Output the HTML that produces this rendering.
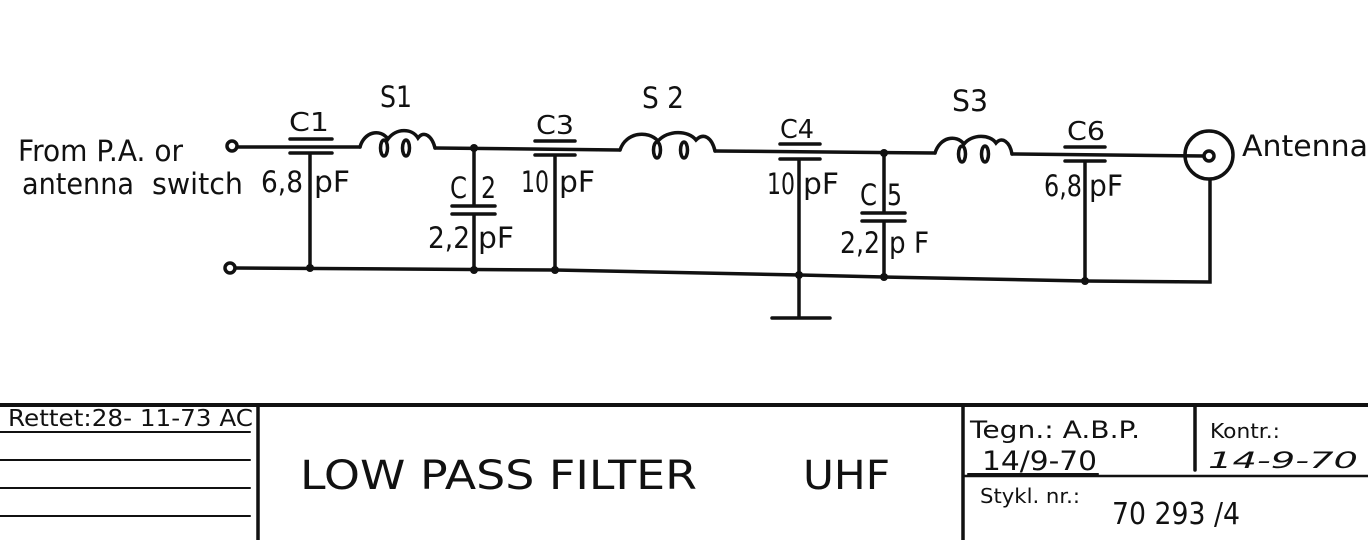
<!DOCTYPE html>
<html><head><meta charset="utf-8"><style>
html,body{margin:0;padding:0;background:#fff;}
svg{display:block;}
text{font-family:"DejaVu Sans","Liberation Sans",sans-serif;fill:#111;}
</style></head><body>
<svg width="1368" height="540" viewBox="0 0 1368 540" xmlns="http://www.w3.org/2000/svg">
<g stroke="#111" stroke-width="3.5" fill="none" stroke-linecap="round">
<circle cx="232" cy="146" r="5" fill="#fff"/>
<path d="M237 147 L360 147"/>
<path d="M435 148 L620 150"/>
<path d="M715 151 L935 153"/>
<path d="M1012 154 L1204 156"/>
<path d="M360 147 C364 132 380 128 388 139 C396 128 412 128 418 138 C424 130 432 136 435 148"/>
<ellipse cx="384" cy="148" rx="3.5" ry="8"/>
<ellipse cx="406" cy="148" rx="3.5" ry="8"/>
<path d="M620 150 C626 132 648 130 658 141 C668 130 688 130 696 140 C704 132 712 138 715 151"/>
<ellipse cx="657" cy="150" rx="3.5" ry="8"/>
<ellipse cx="684" cy="150" rx="3.5" ry="8"/>
<path d="M935 153 C940 137 956 134 964 144 C972 134 990 134 996 143 C1002 136 1010 142 1012 154"/>
<ellipse cx="962" cy="154" rx="3.5" ry="8"/>
<ellipse cx="985" cy="154" rx="3.5" ry="8"/>
<circle cx="230" cy="268" r="5" fill="#fff"/>
<path d="M235 268 L555 270 L800 275 L884 277 L1085 281 L1210 282 L1210 180"/>
<circle cx="1209" cy="155" r="24"/>
<circle cx="1209" cy="156" r="5"/>
<path d="M290 139 L332 139 M290 153 L332 153 M310 153 L310 268"/>
<path d="M474 148 L474 206 M452 206 L495 206 M452 214 L495 214 M474 214 L474 270"/>
<path d="M535 141 L575 141 M535 155 L575 155 M555 155 L555 270"/>
<path d="M780 144 L820 144 M780 159 L820 159 M799 159 L799 318 M772 318 L830 318"/>
<path d="M884 153 L884 213 M862 213 L905 213 M862 221 L905 221 M884 221 L884 277"/>
<path d="M1065 147 L1105 147 M1065 161 L1105 161 M1085 161 L1085 281"/>
<path d="M0 405 L1368 405" stroke-width="4"/>
<path d="M258 405 L258 540 M963 405 L963 540 M1195 405 L1195 470"/>
<path d="M0 432 L250 432 M0 460 L250 460 M0 488 L250 488 M0 516 L250 516" stroke-width="2"/>
<path d="M963 476 L1368 476" stroke-width="2.5"/>
<path d="M968 474 L1098 474" stroke-width="2"/>
</g>
<g fill="#111">
<circle cx="474" cy="148" r="4"/><circle cx="884" cy="153" r="4"/>
<circle cx="310" cy="268" r="4"/><circle cx="474" cy="270" r="4"/><circle cx="555" cy="270" r="4"/>
<circle cx="799" cy="275" r="4"/><circle cx="884" cy="277" r="4"/><circle cx="1085" cy="281" r="4"/>
</g>
<g font-size="29" lengthAdjust="spacingAndGlyphs">
<text x="18" y="161" textLength="165" lengthAdjust="spacingAndGlyphs">From P.A. or</text>
<text x="22" y="194" textLength="112" lengthAdjust="spacingAndGlyphs">antenna</text>
<text x="152" y="194" textLength="91" lengthAdjust="spacingAndGlyphs">switch</text>
<text x="1242" y="156" textLength="126" lengthAdjust="spacingAndGlyphs">Antenna</text>
<text x="380" y="107" textLength="32" lengthAdjust="spacingAndGlyphs">S1</text>
<text x="642" y="108" textLength="42" lengthAdjust="spacingAndGlyphs">S 2</text>
<text x="952" y="111" textLength="36" lengthAdjust="spacingAndGlyphs">S3</text>
<text x="289" y="131" font-size="26" textLength="40" lengthAdjust="spacingAndGlyphs">C1</text>
<text x="536" y="134" font-size="26" textLength="38" lengthAdjust="spacingAndGlyphs">C3</text>
<text x="780" y="138" font-size="26" textLength="34" lengthAdjust="spacingAndGlyphs">C4</text>
<text x="1067" y="140" font-size="26" textLength="38" lengthAdjust="spacingAndGlyphs">C6</text>
<text x="450" y="198" textLength="17" lengthAdjust="spacingAndGlyphs">C</text><text x="481" y="198" textLength="15" lengthAdjust="spacingAndGlyphs">2</text>
<text x="860" y="205" textLength="17" lengthAdjust="spacingAndGlyphs">C</text><text x="887" y="205" textLength="15" lengthAdjust="spacingAndGlyphs">5</text>
<text x="261" y="192" textLength="42" lengthAdjust="spacingAndGlyphs">6,8</text><text x="314" y="192" textLength="36" lengthAdjust="spacingAndGlyphs">pF</text>
<text x="521" y="192" textLength="28" lengthAdjust="spacingAndGlyphs">10</text><text x="559" y="192" textLength="36" lengthAdjust="spacingAndGlyphs">pF</text>
<text x="767" y="194" textLength="28" lengthAdjust="spacingAndGlyphs">10</text><text x="803" y="194" textLength="36" lengthAdjust="spacingAndGlyphs">pF</text>
<text x="1044" y="196" textLength="38" lengthAdjust="spacingAndGlyphs">6,8</text><text x="1089" y="196" textLength="34" lengthAdjust="spacingAndGlyphs">pF</text>
<text x="428" y="248" textLength="42" lengthAdjust="spacingAndGlyphs">2,2</text><text x="478" y="248" textLength="36" lengthAdjust="spacingAndGlyphs">pF</text>
<text x="840" y="253" textLength="40" lengthAdjust="spacingAndGlyphs">2,2</text><text x="889" y="253" textLength="40" lengthAdjust="spacingAndGlyphs">p F</text>
</g>
<g>
<text x="8" y="426" font-size="23" textLength="245" lengthAdjust="spacingAndGlyphs">Rettet:28- 11-73 AC</text>
<text x="300" y="489" font-size="40" textLength="397" lengthAdjust="spacingAndGlyphs">LOW  PASS  FILTER</text>
<text x="803" y="489" font-size="40" textLength="87" lengthAdjust="spacingAndGlyphs">UHF</text>
<text x="970" y="438" font-size="24" textLength="170" lengthAdjust="spacingAndGlyphs">Tegn.: A.B.P.</text>
<text x="982" y="470" font-size="27" textLength="115" lengthAdjust="spacingAndGlyphs">14/9-70</text>
<text x="1210" y="438" font-size="20" textLength="70" lengthAdjust="spacingAndGlyphs">Kontr.:</text>
<text x="1208" y="468" font-style="italic" font-size="22" fill="#555" textLength="150" lengthAdjust="spacingAndGlyphs">14-9-70</text>
<text x="980" y="503" font-size="20" textLength="100" lengthAdjust="spacingAndGlyphs">Stykl. nr.:</text>
<text x="1112" y="524" font-size="30" textLength="128" lengthAdjust="spacingAndGlyphs">70 293 /4</text>
</g>
</svg>
</body></html>
